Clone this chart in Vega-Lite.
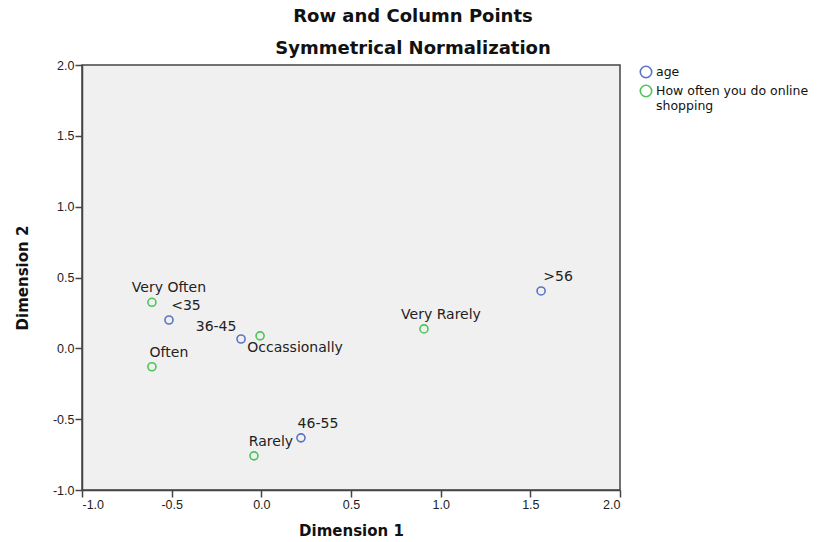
{
  "$schema": "https://vega.github.io/schema/vega-lite/v6.json",
  "width": 538,
  "height": 425,
  "autosize": {"type": "none"},
  "padding": {"left": 82, "top": 65, "right": 207, "bottom": 52},
  "background": "white",
  "config": {
    "font": "Liberation Sans",
    "view": {"fill": "#f0f0f0", "stroke": "#444444", "strokeWidth": 1.5},
    "axis": {
      "grid": false,
      "domainColor": "#444444",
      "domainWidth": 1.5,
      "tickColor": "#444444",
      "tickWidth": 1.5,
      "tickSize": 7,
      "labelPadding": 1,
      "labelFont": "Liberation Sans",
      "labelFontSize": 12.5,
      "labelColor": "#222222",
      "titleFont": "DejaVu Sans",
      "titleFontSize": 15,
      "titleFontWeight": "bold",
      "titleColor": "#111111"
    }
  },
  "title": {
    "text": "Row and Column Points",
    "subtitle": "Symmetrical Normalization",
    "anchor": "middle",
    "dx": 62,
    "offset": 1,
    "font": "DejaVu Sans",
    "fontSize": 18,
    "fontWeight": "bold",
    "color": "#111111",
    "subtitleFont": "DejaVu Sans",
    "subtitleFontSize": 18,
    "subtitleFontWeight": "bold",
    "subtitleColor": "#111111",
    "subtitlePadding": 14
  },
  "data": {
    "values": [
      {"label": "<35", "group": "age", "dim1": -0.515, "dim2": 0.2},
      {"label": "36-45", "group": "age", "dim1": -0.113, "dim2": 0.066},
      {"label": "46-55", "group": "age", "dim1": 0.221, "dim2": -0.632},
      {"label": ">56", "group": "age", "dim1": 1.56, "dim2": 0.405},
      {"label": "Very Often", "group": "How often you do online shopping", "dim1": -0.61, "dim2": 0.325},
      {"label": "Often", "group": "How often you do online shopping", "dim1": -0.61, "dim2": -0.13},
      {"label": "Occassionally", "group": "How often you do online shopping", "dim1": -0.007, "dim2": 0.088},
      {"label": "Rarely", "group": "How often you do online shopping", "dim1": -0.041, "dim2": -0.759},
      {"label": "Very Rarely", "group": "How often you do online shopping", "dim1": 0.907, "dim2": 0.137}
    ]
  },
  "encoding": {
    "x": {
      "field": "dim1",
      "type": "quantitative",
      "scale": {"domain": [-1, 2], "nice": false, "zero": false},
      "axis": {"values": [-1, -0.5, 0, 0.5, 1, 1.5, 2], "labelExpr": "replace(format(datum.value, '.1f'), '\u2212', '-')", "title": "Dimension 1", "titlePadding": 13}
    },
    "y": {
      "field": "dim2",
      "type": "quantitative",
      "scale": {"domain": [-1, 2], "nice": false, "zero": false},
      "axis": {"values": [-1, -0.5, 0, 0.5, 1, 1.5, 2], "labelExpr": "replace(format(datum.value, '.1f'), '\u2212', '-')", "title": "Dimension 2", "titlePadding": 22}
    }
  },
  "layer": [
    {
      "mark": {"type": "point", "filled": false, "size": 65, "strokeWidth": 1.6, "opacity": 1},
      "encoding": {
        "color": {
          "field": "group",
          "type": "nominal",
          "scale": {"domain": ["age", "How often you do online shopping"], "range": ["#5a72c8", "#4cc458"]},
          "legend": {
            "title": null,
            "orient": "none",
            "legendX": 557,
            "legendY": 0,
            "symbolType": "circle",
            "symbolSize": 130,
            "symbolStrokeWidth": 1.6,
            "symbolFillColor": "transparent",
            "labelFont": "DejaVu Sans",
            "labelFontSize": 12.5,
            "labelColor": "#111111",
            "labelLimit": 300,
            "labelOffset": 3,
            "rowPadding": 1,
            "labelExpr": "datum.label == 'How often you do online shopping' ? ['How often you do online', 'shopping'] : datum.label"
          }
        }
      }
    },
    {
      "transform": [{"filter": "datum.label != '36-45' && datum.label != 'Occassionally'"}],
      "mark": {"type": "text", "dx": 17, "dy": -14, "fontSize": 14, "font": "DejaVu Sans", "color": "#222222", "align": "center", "baseline": "middle"},
      "encoding": {"text": {"field": "label"}}
    },
    {
      "transform": [{"filter": "datum.label == '36-45'"}],
      "mark": {"type": "text", "dx": -25, "dy": -12, "fontSize": 14, "font": "DejaVu Sans", "color": "#222222", "align": "center", "baseline": "middle"},
      "encoding": {"text": {"field": "label"}}
    },
    {
      "transform": [{"filter": "datum.label == 'Occassionally'"}],
      "mark": {"type": "text", "dx": 35, "dy": 12, "fontSize": 14, "font": "DejaVu Sans", "color": "#222222", "align": "center", "baseline": "middle"},
      "encoding": {"text": {"field": "label"}}
    }
  ]
}
